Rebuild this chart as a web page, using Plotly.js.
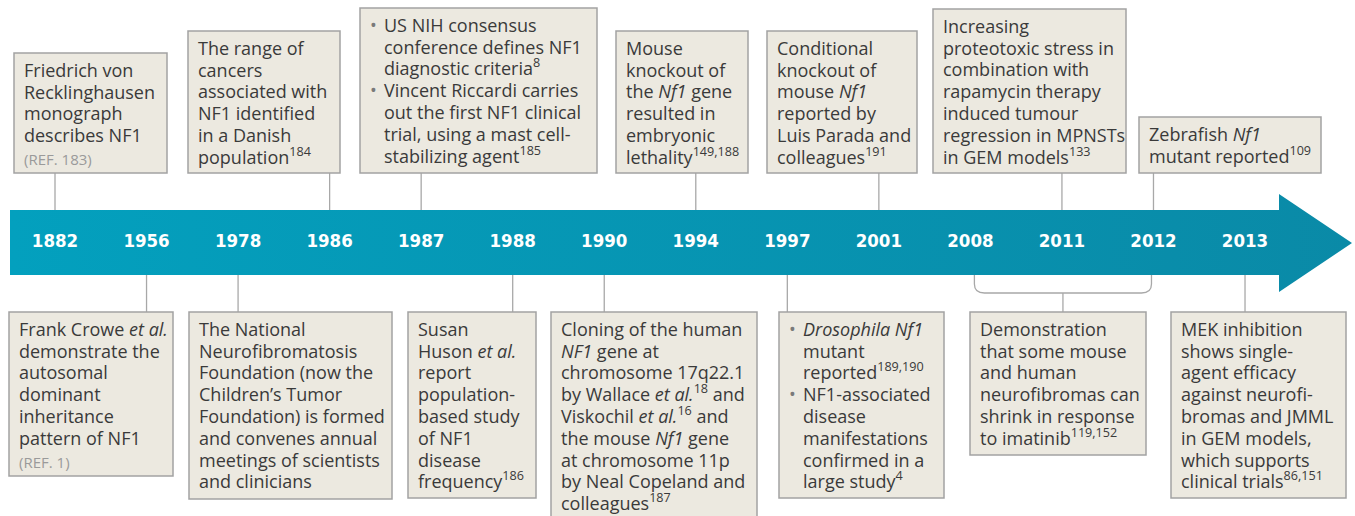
<!DOCTYPE html>
<html><head><meta charset="utf-8">
<script src="https://cdn.plot.ly/plotly-3.0.1.min.js"></script>
<style>html,body{margin:0;padding:0;background:#fff}#chart{width:1355px;height:516px}</style>
</head><body><div id="chart"></div>
<script>
// ---------- DATA ----------
const years = ['1882','1956','1978','1986','1987','1988','1990','1994','1997','2001','2008','2011','2012','2013'];

const topYears = ['1882','1986','1987','1994','2001','2011','2012'];
const topTexts = [
  "Friedrich von<br>Recklinghausen<br>monograph<br>describes NF1<br><span style='font-size:15px;color:#9a9a9a'>(REF. 183)</span>",
  "The range of<br>cancers<br>associated with<br>NF1 identified<br>in a Danish<br>population<sup>184</sup>",
  "US NIH consensus<br>conference defines NF1<br>diagnostic criteria<sup>8</sup><br>Vincent Riccardi carries<br>out the first NF1 clinical<br>trial, using a mast cell-<br>stabilizing agent<sup>185</sup>",
  "Mouse<br>knockout of<br>the <i>Nf1</i> gene<br>resulted in<br>embryonic<br>lethality<sup>149,188</sup>",
  "Conditional<br>knockout of<br>mouse <i>Nf1</i><br>reported by<br>Luis Parada and<br>colleagues<sup>191</sup>",
  "Increasing<br>proteotoxic stress in<br>combination with<br>rapamycin therapy<br>induced tumour<br>regression in MPNSTs<br>in GEM models<sup>133</sup>",
  "Zebrafish <i>Nf1</i><br>mutant reported<sup>109</sup>"
];
const topBullets = [[],[],[0,3],[],[],[],[]];

const bottomYears = ['1956','1978','1988','1990','1997',['2008','2012'],'2013'];
const bottomTexts = [
  "Frank Crowe <i>et al.</i><br>demonstrate the<br>autosomal<br>dominant<br>inheritance<br>pattern of NF1<br><span style='font-size:15px;color:#9a9a9a'>(REF. 1)</span>",
  "The National<br>Neurofibromatosis<br>Foundation (now the<br>Children’s Tumor<br>Foundation) is formed<br>and convenes annual<br>meetings of scientists<br>and clinicians",
  "Susan<br>Huson <i>et al.</i><br>report<br>population-<br>based study<br>of NF1<br>disease<br>frequency<sup>186</sup>",
  "Cloning of the human<br><i>NF1</i> gene at<br>chromosome 17q22.1<br>by Wallace <i>et al.</i><sup>18</sup> and<br>Viskochil <i>et al.</i><sup>16</sup> and<br>the mouse <i>Nf1</i> gene<br>at chromosome 11p<br>by Neal Copeland and<br>colleagues<sup>187</sup>",
  "<i>Drosophila Nf1</i><br>mutant<br>reported<sup>189,190</sup><br>NF1-associated<br>disease<br>manifestations<br>confirmed in a<br>large study<sup>4</sup>",
  "Demonstration<br>that some mouse<br>and human<br>neurofibromas can<br>shrink in response<br>to imatinib<sup>119,152</sup>",
  "MEK inhibition<br>shows single-<br>agent efficacy<br>against neurofi-<br>bromas and JMML<br>in GEM models,<br>which supports<br>clinical trials<sup>86,151</sup>"
];
const bottomBullets = [[],[],[],[],[0,3],[],[]];

// ---------- LAYOUT GEOMETRY (pixels) ----------
const W = 1355, H = 516;
const PX0 = 55, STEP = 91.54;            // pixel of first year slot, pixel spacing between slots
const u = px => (px - PX0) / STEP;        // pixel -> axis unit (year slot)
const idx = y => years.indexOf(y);

const bandTop = 210, bandBot = 275, bandLeft = 10, shaftEnd = 1279, headTop = 194, headBot = 292, tipX = 1352, tipY = 243;
const labelY = 242;
const topBoxes = [ [14,167,53], [188,340,31], [360,597,8], [616,748,31], [767,917,31], [933,1126,9], [1139,1321,117] ];
const topBoxBottom = 173;
const bottomBoxes = [ [9,173,476], [189,392,499], [408,536,498], [551,757,522], [779,944,498], [970,1146,455], [1171,1346,498] ];
const bottomBoxTop = 312;
const bracketY = 293;

const FONT = '"Open Sans", Lato, sans-serif';
const FS = 18, LH = 21.8, BASE = 24.5, DESC = FS * 0.293;
const TXT = '#3a3a3a', BOXFILL = '#ece9e0', BOXLINE = '#a2a2a2', CONN = '#a8a8a8';

// ---------- TRACES ----------
const arrowPx = [[bandLeft,bandTop],[shaftEnd,bandTop],[shaftEnd,headTop],[tipX,tipY],[shaftEnd,headBot],[shaftEnd,bandBot],[bandLeft,bandBot],[bandLeft,bandTop]];
const arrow = {
  x: arrowPx.map(p => u(p[0])), y: arrowPx.map(p => p[1]),
  mode: 'lines', fill: 'toself', line: {width: 0, color: '#0096b4'},
  fillcolor: '#0096b4',
  fillgradient: {type: 'horizontal', colorscale: [[0, '#03a0be'], [1, '#0a8aa7']]},
  hoverinfo: 'skip', showlegend: false
};
const yearLabels = {
  x: years.map((y, i) => i), y: years.map(() => labelY),
  text: years, mode: 'text',
  textfont: {family: '"Liberation Sans Narrow", "DejaVu Sans Condensed", sans-serif', size: 18.5, color: '#ffffff', weight: 'bold'},
  hoverinfo: 'skip', showlegend: false
};

// ---------- SHAPES & ANNOTATIONS ----------
const shapes = [], annotations = [];
function addBox(x0, x1, y0, y1, text, bullets) {
  shapes.push({type: 'rect', xref: 'x', yref: 'y', x0: u(x0), x1: u(x1), y0: y0, y1: y1,
    fillcolor: BOXFILL, line: {color: BOXLINE, width: 1.5}, layer: 'above'});
  const indent = bullets.length ? 23 : 9;
  text.split('<br>').forEach((line, k) => {
    const yb = y0 + BASE + k * LH;   // baseline
    annotations.push({xref: 'x', yref: 'y', x: u(x0 + indent), y: yb, yshift: -DESC, xanchor: 'left', yanchor: 'bottom',
      align: 'left', showarrow: false, text: line, borderpad: 0,
      font: {family: FONT, size: FS, color: TXT}});
    if (bullets.includes(k)) annotations.push({xref: 'x', yref: 'y', x: u(x0 + 9), y: yb, yshift: -DESC,
      xanchor: 'left', yanchor: 'bottom', showarrow: false, text: '•', borderpad: 0,
      font: {family: FONT, size: FS, color: '#7a7a7a'}});
  });
}
function vline(x, y0, y1) {
  shapes.push({type: 'line', xref: 'x', yref: 'y', x0: x, x1: x, y0: y0, y1: y1, line: {color: CONN, width: 1.3}, layer: 'above'});
}

topYears.forEach((yr, i) => {
  const b = topBoxes[i];
  vline(idx(yr), topBoxBottom, bandTop);
  addBox(b[0], b[1], b[2], topBoxBottom, topTexts[i], topBullets[i]);
});
bottomYears.forEach((yr, i) => {
  const b = bottomBoxes[i];
  if (Array.isArray(yr)) {
    const a = idx(yr[0]) + u(974) - u(970), c = idx(yr[1]) - (u(1152) - u(1150));
    const r = 10 / STEP;
    shapes.push({type: 'path', xref: 'x', yref: 'y',
      path: `M ${a} ${bandBot} L ${a} ${bracketY - 9} Q ${a} ${bracketY} ${a + r} ${bracketY} L ${c - r} ${bracketY} Q ${c} ${bracketY} ${c} ${bracketY - 9} L ${c} ${bandBot}`,
      line: {color: CONN, width: 1.3}, layer: 'above'});
    vline((a + c) / 2, bracketY, bottomBoxTop);
  } else {
    vline(idx(yr), bandBot, bottomBoxTop);
  }
  addBox(b[0], b[1], bottomBoxTop, b[2], bottomTexts[i], bottomBullets[i]);
});

const layout = {
  width: W, height: H, margin: {l: 0, r: 0, t: 0, b: 0},
  paper_bgcolor: '#ffffff', plot_bgcolor: '#ffffff',
  xaxis: {range: [u(0), u(W)], visible: false, fixedrange: true},
  yaxis: {range: [H, 0], visible: false, fixedrange: true},
  shapes: shapes, annotations: annotations, showlegend: false
};
Plotly.newPlot('chart', [arrow, yearLabels], layout, {staticPlot: true});
</script></body></html>
